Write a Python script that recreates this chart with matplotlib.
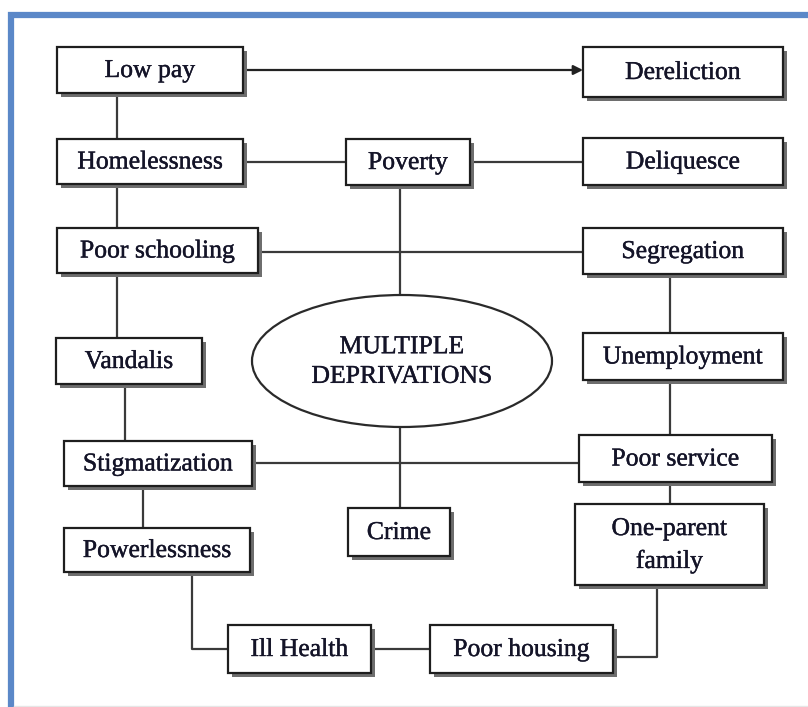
import matplotlib
matplotlib.use("Agg")
import matplotlib.pyplot as plt
import matplotlib.patches as patches
import matplotlib.patheffects as pe

# node labels
labels = ["Low pay", "Dereliction", "Homelessness", "Poverty", "Deliquesce",
          "Poor schooling", "Segregation", "Vandalis", "Unemployment",
          "Stigmatization", "Poor service", "Crime", "Powerlessness",
          "One-parent\nfamily", "Ill Health", "Poor housing"]
centre_label = "MULTIPLE\nDEPRIVATIONS"

# layout: x0, y0, x1, y1 in pixels (y downward)
boxes = {
    "Low pay": (57, 47, 243, 93),
    "Dereliction": (583, 47, 783, 97),
    "Homelessness": (57, 139, 243, 184),
    "Poverty": (346, 139, 470, 185),
    "Deliquesce": (583, 138, 783, 185),
    "Poor schooling": (57, 228, 258, 273),
    "Segregation": (583, 228, 783, 274),
    "Vandalis": (56, 338, 202, 384),
    "Unemployment": (583, 333, 783, 380),
    "Stigmatization": (64, 441, 252, 486),
    "Poor service": (579, 435, 772, 482),
    "Crime": (348, 508, 450, 556),
    "Powerlessness": (64, 528, 250, 572),
    "One-parent\nfamily": (575, 504, 764, 585),
    "Ill Health": (228, 625, 371, 673),
    "Poor housing": (430, 625, 613, 673),
}
ellipse = (402, 361, 300, 132)

# connector polylines
links = [
    [(117, 93), (117, 139)],
    [(243, 162), (346, 162)],
    [(470, 162), (583, 162)],
    [(117, 184), (117, 228)],
    [(258, 252), (583, 252)],
    [(400, 185), (400, 295)],
    [(117, 273), (117, 338)],
    [(670, 274), (670, 333)],
    [(125, 384), (125, 441)],
    [(670, 380), (670, 435)],
    [(252, 463), (579, 463)],
    [(400, 427), (400, 508)],
    [(143, 486), (143, 528)],
    [(670, 482), (670, 504)],
    [(192, 572), (192, 649), (228, 649)],
    [(371, 649), (430, 649)],
    [(613, 657), (657, 657), (657, 585)],
]

fig = plt.figure(figsize=(8.08, 7.07), dpi=100)
ax = fig.add_axes([0, 0, 1, 1])
ax.set_xlim(0, 808)
ax.set_ylim(707, 0)
ax.axis("off")

# outer frame
ax.plot([11, 11, 808], [707, 15, 15], color="#5b88c8", lw=4.5, solid_capstyle="butt",
        solid_joinstyle="miter", zorder=1)
ax.plot([14, 808], [705.5, 705.5], color="#e6e6e6", lw=1, zorder=1)

for pts in links:
    xs = [p[0] for p in pts]
    ys = [p[1] for p in pts]
    ax.plot(xs, ys, color="#3a3a3a", lw=1.6, zorder=2, solid_capstyle="butt")

# arrow Low pay -> Dereliction
ax.annotate("", xy=(583, 70), xytext=(243, 70),
            arrowprops=dict(arrowstyle="-|>", color="#222222", lw=1.6,
                            mutation_scale=14, shrinkA=0, shrinkB=0), zorder=2)

font = ["Liberation Serif", "DejaVu Serif"]
heavy = [pe.withStroke(linewidth=0.3, foreground="#141428")]
for name in labels:
    x0, y0, x1, y1 = boxes[name]
    ax.add_patch(patches.Rectangle((x0 + 4, y0 + 4), x1 - x0, y1 - y0,
                                   facecolor="#6e6e6e", edgecolor="none", zorder=3))
    ax.add_patch(patches.Rectangle((x0, y0), x1 - x0, y1 - y0, facecolor="white",
                                   edgecolor="#1e1e1e", lw=1.6, zorder=4))
    ax.text((x0 + x1) / 2, (y0 + y1) / 2 + 1, name, ha="center", va="center",
            fontsize=18.5, family=font, color="#141428", linespacing=1.55, zorder=5,
            path_effects=heavy)

cx, cy, w, h = ellipse
ax.add_patch(patches.Ellipse((cx, cy), w, h, facecolor="white", edgecolor="#2a2a2a",
                             lw=1.6, zorder=4))
ax.text(cx, cy + 1, centre_label, ha="center", va="center", fontsize=18.5, family=font,
        color="#141428", linespacing=1.45, zorder=5, path_effects=heavy)

fig.savefig("out.png", dpi=100)
